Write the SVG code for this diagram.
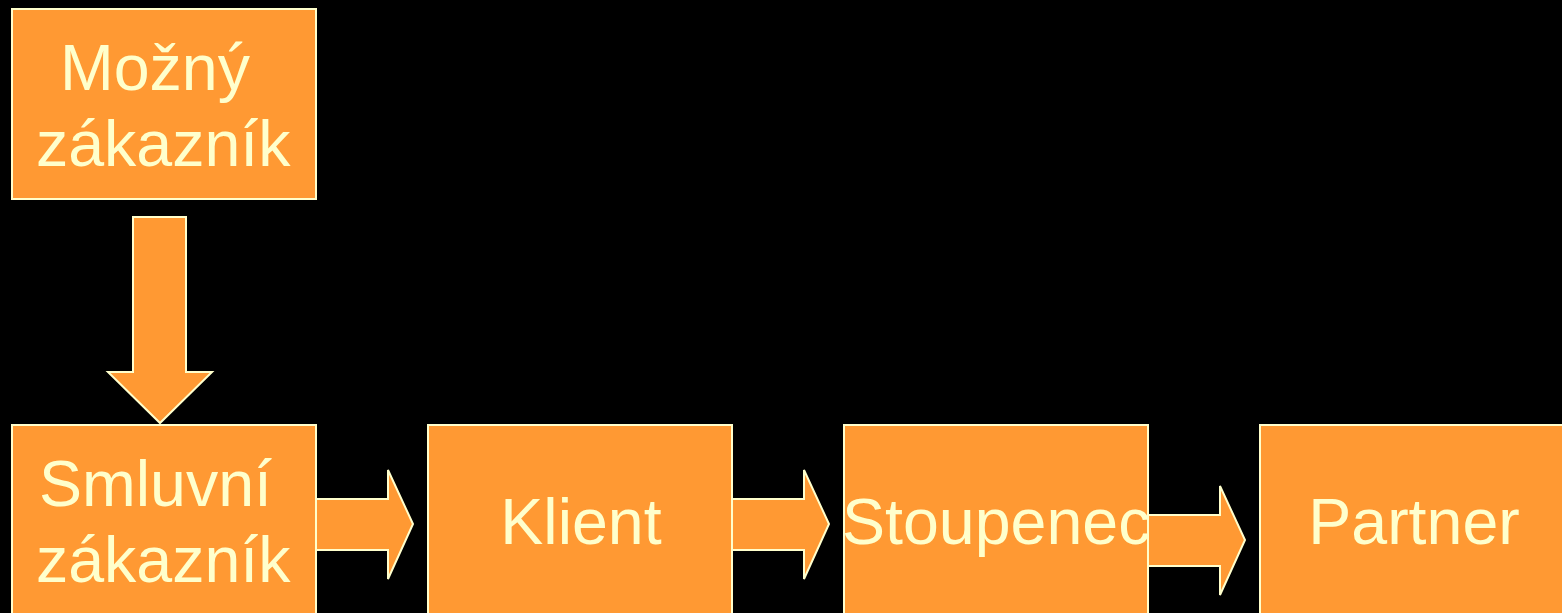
<svg xmlns="http://www.w3.org/2000/svg" width="1562" height="613" viewBox="0 0 1562 613">
<style>
.box{fill:#FF9933;stroke:#FFFFCC;stroke-width:2}
.arr{fill:#FF9933;stroke:#FFFFCC;stroke-width:2;stroke-linejoin:miter}
.t{font-family:"Liberation Sans",Arial,sans-serif;font-size:64.5px;fill:#FFFFCC}
</style>
<rect width="1562" height="613" fill="#000000"/>
<g id="node-mozny">
<rect class="box" x="12" y="9" width="304" height="190"/>
<text class="t" x="60" y="90">Možný</text>
<text class="t" x="36" y="166">zákazník</text>
</g>
<g id="node-smluvni">
<rect class="box" x="12" y="425" width="304" height="200"/>
<text class="t" x="39" y="506">Smluvní</text>
<text class="t" x="36" y="582">zákazník</text>
</g>
<g id="node-klient">
<rect class="box" x="428" y="425" width="304" height="200"/>
<text class="t" x="581" y="544" text-anchor="middle">Klient</text>
</g>
<g id="node-stoupenec">
<rect class="box" x="844" y="425" width="304" height="200"/>
<text class="t" x="842" y="544">Stoupenec</text>
</g>
<g id="node-partner">
<rect class="box" x="1260" y="425" width="310" height="200"/>
<text class="t" x="1414" y="544" text-anchor="middle">Partner</text>
</g>
<g id="connectors">
<polygon class="arr" points="133,217 186,217 186,372 212,372 160,423 108,372 133,372"/>
<polygon class="arr" points="316,499 388,499 388,470 413,524 388,579 388,550 316,550"/>
<polygon class="arr" points="732,499 804,499 804,470 829,524 804,579 804,550 732,550"/>
<polygon class="arr" points="1148,515 1220,515 1220,486 1245,540 1220,595 1220,566 1148,566"/>
</g>
</svg>
